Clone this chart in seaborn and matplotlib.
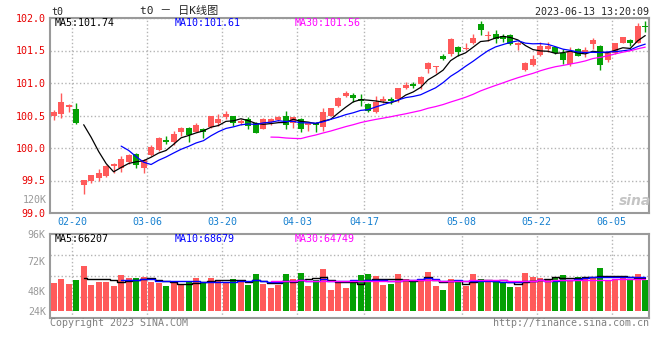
import matplotlib
matplotlib.use('Agg')
import matplotlib.pyplot as plt
import seaborn as sns
import pandas as pd

# t0 日K线图, 80 个交易日 (价格读自图中)
opens = [100.49, 100.52, 100.63, 100.60, 99.43, 99.50, 99.54, 99.57, 99.72, 99.70,
         99.79, 99.91, 99.70, 99.89, 99.97, 100.12, 100.10, 100.25, 100.31, 100.25,
         100.30, 100.32, 100.39, 100.48, 100.49, 100.39, 100.44, 100.39, 100.30, 100.40,
         100.43, 100.50, 100.39, 100.45, 100.35, 100.39, 100.32, 100.49, 100.64, 100.80,
         100.81, 100.76, 100.68, 100.56, 100.72, 100.75, 100.75, 100.92, 100.99, 100.98,
         101.22, 101.24, 101.42, 101.44, 101.56, 101.52, 101.61, 101.90, 101.72, 101.75,
         101.73, 101.74, 101.58, 101.20, 101.27, 101.43, 101.52, 101.56, 101.46, 101.30,
         101.52, 101.46, 101.60, 101.57, 101.35, 101.46, 101.62, 101.66, 101.62, 101.87]
highs = [100.58, 100.84, 100.67, 100.69, 99.50, 99.58, 99.67, 99.74, 99.77, 99.88,
         99.91, 99.92, 99.83, 100.04, 100.17, 100.19, 100.26, 100.32, 100.33, 100.38,
         100.31, 100.49, 100.53, 100.57, 100.50, 100.44, 100.47, 100.40, 100.46, 100.46,
         100.49, 100.57, 100.48, 100.46, 100.40, 100.40, 100.62, 100.62, 100.79, 100.87,
         100.85, 100.83, 100.69, 100.80, 100.80, 100.78, 100.93, 101.02, 101.01, 101.11,
         101.32, 101.26, 101.44, 101.70, 101.57, 101.61, 101.75, 101.95, 101.80, 101.81,
         101.76, 101.75, 101.63, 101.33, 101.43, 101.63, 101.63, 101.56, 101.52, 101.55,
         101.54, 101.55, 101.70, 101.59, 101.47, 101.62, 101.70, 101.67, 101.92, 101.96]
lows = [100.43, 100.46, 100.56, 100.37, 99.29, 99.46, 99.49, 99.56, 99.61, 99.63,
        99.75, 99.70, 99.61, 99.88, 99.96, 100.06, 100.05, 100.19, 100.10, 100.24,
        100.16, 100.31, 100.34, 100.45, 100.34, 100.35, 100.30, 100.23, 100.30, 100.36,
        100.41, 100.30, 100.31, 100.24, 100.26, 100.25, 100.26, 100.49, 100.63, 100.78,
        100.71, 100.65, 100.55, 100.54, 100.70, 100.68, 100.71, 100.91, 100.93, 100.91,
        101.15, 101.15, 101.35, 101.42, 101.41, 101.51, 101.60, 101.74, 101.65, 101.62,
        101.63, 101.58, 101.51, 101.18, 101.26, 101.41, 101.48, 101.45, 101.29, 101.26,
        101.41, 101.40, 101.52, 101.20, 101.32, 101.45, 101.61, 101.57, 101.61, 101.78]
closes = [100.55, 100.70, 100.66, 100.38, 99.50, 99.58, 99.61, 99.73, 99.75, 99.83,
          99.89, 99.74, 99.81, 100.02, 100.15, 100.09, 100.21, 100.31, 100.20, 100.35,
          100.25, 100.49, 100.44, 100.52, 100.39, 100.41, 100.34, 100.23, 100.45, 100.45,
          100.48, 100.36, 100.47, 100.29, 100.39, 100.36, 100.56, 100.61, 100.77, 100.84,
          100.77, 100.73, 100.57, 100.71, 100.75, 100.72, 100.92, 100.97, 100.95, 101.10,
          101.31, 101.26, 101.37, 101.68, 101.47, 101.54, 101.69, 101.81, 101.74, 101.68,
          101.67, 101.60, 101.62, 101.31, 101.37, 101.57, 101.57, 101.46, 101.36, 101.49,
          101.42, 101.51, 101.66, 101.28, 101.46, 101.61, 101.70, 101.61, 101.87, 101.86]
# 成交量 (K)
volumes = [60.2, 64.8, 58.5, 63.6, 81.4, 57.2, 61.0, 61.0, 55.9, 69.9,
           66.1, 66.1, 67.4, 61.0, 60.2, 55.9, 59.3, 57.2, 62.3, 66.1,
           60.6, 66.1, 62.3, 61.4, 64.8, 60.6, 57.2, 71.2, 58.5, 53.3,
           57.6, 71.2, 64.8, 72.5, 55.9, 63.6, 77.6, 50.8, 60.2, 53.8,
           60.2, 69.9, 71.2, 68.7, 57.2, 58.5, 71.2, 64.8, 61.4, 64.8,
           73.8, 55.9, 50.8, 64.8, 63.6, 55.9, 71.2, 64.8, 61.4, 61.4,
           61.0, 54.6, 54.6, 72.5, 67.4, 66.1, 63.6, 66.1, 69.9, 63.6,
           67.4, 67.4, 65.7, 78.9, 63.6, 65.3, 67.4, 63.6, 71.2, 63.6]

date_labels = ['02-20', '03-06', '03-20', '04-03', '04-17', '05-08', '05-22', '06-05']
date_idx = [3, 13, 23, 33, 42, 55, 65, 75]
price_ticks = [99.0, 99.5, 100.0, 100.5, 101.0, 101.5, 102.0]
vol_tick_labels = ['24K', '48K', '72K', '96K']
ma_labels = ['MA5:101.74', 'MA10:101.61', 'MA30:101.56']
vol_ma_labels = ['MA5:66207', 'MA10:68679', 'MA30:64749']

RED = '#ff5a5a'
GREEN = '#04a004'
MA_COLORS = ['black', '#0000ff', '#ff00ff']
VOL_BASE = 24

df = pd.DataFrame({'open': opens, 'high': highs, 'low': lows,
                   'close': closes, 'vol': volumes})
df['idx'] = range(len(df))
df['color'] = [RED if c >= o else GREEN for o, c in zip(df['open'], df['close'])]
for n in (5, 10, 30):
    df[f'ma{n}'] = df['close'].rolling(n).mean()
    df[f'vma{n}'] = df['vol'].rolling(n).mean()

sns.set_style('white')
plt.rcParams['font.family'] = ['DejaVu Sans Mono', 'Noto Sans CJK SC']
plt.rcParams['font.size'] = 7.2

W, H = 660, 360
fig = plt.figure(figsize=(6.6, 3.6), dpi=100)
ax1 = fig.add_axes([50 / W, 1 - 213 / H, 599 / W, 195 / H])
ax2 = fig.add_axes([50 / W, 1 - 318 / H, 599 / W, 83.7 / H])


def ftext(x, y, s, **kw):
    fig.text(x / W, 1 - y / H, s, va='center', **kw)


# --- K线 ---
body_low = df[['open', 'close']].min(axis=1)
body_h = (df['close'] - df['open']).abs().clip(lower=0.012)
ax1.vlines(df['idx'], df['low'], df['high'], colors=df['color'], lw=1, zorder=3)
ax1.bar(df['idx'], body_h, bottom=body_low, width=0.8, color=df['color'],
        linewidth=0, zorder=4)
for n, c in zip((5, 10, 30), MA_COLORS):
    sns.lineplot(x=df['idx'], y=df[f'ma{n}'], ax=ax1, color=c, lw=0.9, zorder=5)

ax1.set_xlim(-0.5, len(df) - 0.5)
ax1.set_ylim(99.0, 102.0)
ax1.set_yticks(price_ticks)
ax1.set_yticklabels([f'{p:.1f}' for p in price_ticks], color='#e80000')
ax1.set_xticks([i - 0.5 for i in date_idx])
ax1.set_xticklabels(date_labels, color='#1680d0')
ax1.set_xlabel('')
ax1.set_ylabel('')
ax1.tick_params(length=0, pad=3)
ax1.grid(True, linestyle=':', color='#b4b4b4', lw=1)

# --- 成交量 ---
ax2.bar(df['idx'], df['vol'] - VOL_BASE, bottom=VOL_BASE, width=0.8,
        color=df['color'], linewidth=0, zorder=3)
for n, c in zip((5, 10, 30), MA_COLORS):
    sns.lineplot(x=df['idx'], y=df[f'vma{n}'], ax=ax2, color=c, lw=1.0,
                 drawstyle='steps-mid', zorder=4)
vlo, vhi = 15.1, 121.9
ax2.set_xlim(-0.5, len(df) - 0.5)
ax2.set_ylim(vlo, vhi)
ax2.set_yticks([24, 49.9, 87.8, vhi])
ax2.set_yticklabels(vol_tick_labels, color='#999999')
ax2.set_yticks([vlo + k * (vhi - vlo) / 4 for k in (1, 2, 3)], minor=True)
ax2.set_xticks([i - 0.5 for i in date_idx])
ax2.set_xticklabels([])
ax2.set_xlabel('')
ax2.set_ylabel('')
ax2.tick_params(which='both', length=0, pad=3)
ax2.grid(True, which='minor', axis='y', linestyle=':', color='#b4b4b4', lw=1)
ax2.grid(True, which='major', axis='x', linestyle=':', color='#b4b4b4', lw=1)
ax2.grid(False, which='major', axis='y')

for ax in (ax1, ax2):
    for sp in ax.spines.values():
        sp.set_visible(True)
        sp.set_color('#9a9a9a')
        sp.set_linewidth(1.5)

# --- 文字 ---
ftext(51, 12, 't0')
ftext(140, 11, 't0 － 日K线图', fontsize=8)
ftext(649, 12, '2023-06-13 13:20:09', ha='right')
for x, s, c in zip((55, 175, 295), ma_labels, MA_COLORS):
    ftext(x, 23.5, s, color=c)
for x, s, c in zip((55, 175, 295), vol_ma_labels, MA_COLORS):
    ftext(x, 238.5, s, color=c)
ftext(46.5, 200, '120K', ha='right', color='#999999')
ftext(635, 201, 'sina', ha='center', color='#c4c4c4', fontsize=10,
      fontweight='bold', fontstyle='italic', family='DejaVu Sans')
ftext(50, 323.5, 'Copyright 2023 SINA.COM', color='#808080')
ftext(649, 323.5, 'http://finance.sina.com.cn', ha='right', color='#808080')

fig.savefig('out.png', dpi=100)
